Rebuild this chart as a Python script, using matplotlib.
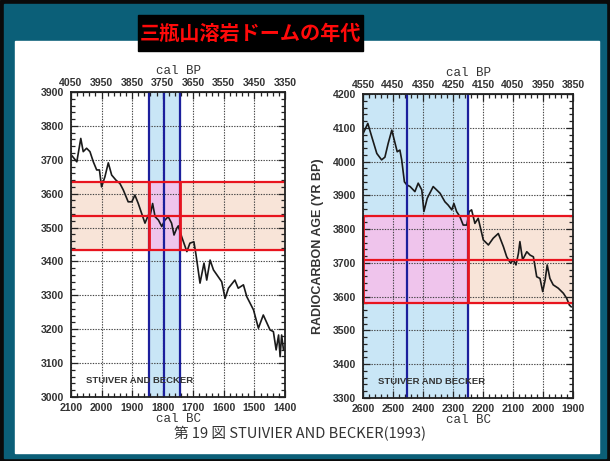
import matplotlib.pyplot as plt
from matplotlib.patches import Rectangle
from matplotlib.ticker import MultipleLocator

# 左図: 1800 BC 付近の較正曲線 (cal BC, 14C 年代)
left_bc = [2096, 2081, 2068, 2060, 2049, 2038, 2027, 2016, 2007, 2000, 1989, 1978,
           1967, 1953, 1940, 1929, 1913, 1901, 1891, 1880, 1869, 1858, 1847, 1842,
           1833, 1825, 1814, 1803, 1793, 1782, 1771, 1763, 1754, 1749, 1738, 1721,
           1711, 1698, 1691, 1678, 1665, 1656, 1645, 1634, 1607, 1596, 1585, 1564,
           1553, 1536, 1525, 1503, 1487, 1471, 1449, 1438, 1429, 1421, 1416, 1411, 1405]
left_c14 = [3711, 3694, 3763, 3724, 3734, 3724, 3694, 3670, 3670, 3620, 3650, 3691,
            3655, 3640, 3630, 3611, 3576, 3576, 3596, 3571, 3542, 3513, 3537, 3532,
            3571, 3532, 3522, 3503, 3522, 3532, 3513, 3478, 3498, 3505, 3473, 3429,
            3454, 3458, 3419, 3336, 3395, 3345, 3404, 3375, 3340, 3291, 3321, 3345,
            3321, 3331, 3296, 3257, 3203, 3242, 3198, 3193, 3139, 3183, 3119, 3183, 3139]

# 右図: 2400 BC 付近の較正曲線
right_bc = [2599, 2584, 2571, 2554, 2538, 2527, 2516, 2504, 2493, 2486, 2477, 2471,
            2462, 2454, 2443, 2427, 2416, 2404, 2397, 2386, 2366, 2343, 2327, 2316,
            2304, 2297, 2288, 2277, 2266, 2254, 2246, 2238, 2227, 2216, 2199, 2182,
            2166, 2149, 2132, 2121, 2108, 2099, 2090, 2082, 2077, 2068, 2054, 2043,
            2032, 2021, 2010, 2001, 1993, 1986, 1977, 1966, 1949, 1932, 1921, 1912, 1906]
right_c14 = [4084, 4113, 4074, 4024, 4005, 4013, 4054, 4093, 4054, 4029, 4034, 4005,
             3940, 3931, 3926, 3911, 3936, 3916, 3852, 3891, 3926, 3906, 3881, 3871,
             3857, 3876, 3852, 3837, 3812, 3812, 3852, 3857, 3817, 3832, 3768, 3753,
             3773, 3787, 3748, 3718, 3699, 3709, 3694, 3728, 3763, 3709, 3733, 3723,
             3718, 3659, 3654, 3615, 3649, 3694, 3654, 3635, 3625, 3610, 3595, 3575, 3570]

# 測定値 (14C 年代 ±1σ) と較正範囲
left_c14_range = [3435, 3535, 3635]
left_cal_range = [1845, 1745]
left_cal_mid = 1797
right_c14_range = [3580, 3710, 3840]
right_cal_range = [2600, 2250]
right_cal_lines = [2455, 2250]

BLUE_FILL = '#c9e6f6'
PINK_FILL = '#efc4ec'
ORANGE_FILL = '#f8e4d8'
RED = '#e8141e'
NAVY = '#1c1f9c'
TICK_FONT = dict(family='Liberation Sans', fontweight='bold', fontsize=7.6, color='#333333')

plt.rcParams['font.family'] = ['Noto Sans CJK JP', 'DejaVu Sans']

fig = plt.figure(figsize=(6.1, 4.61), dpi=100)

# 枠: 黒の縁取り, 青緑の地, 白い台紙
fig.patches.append(Rectangle((0, 0), 1, 1, transform=fig.transFigure, color='#0a0a0a', zorder=-3))
fig.patches.append(Rectangle((4 / 610, 3 / 461), 602 / 610, 454 / 461, transform=fig.transFigure,
                             color='#0b5f78', zorder=-2))
fig.patches.append(Rectangle((15 / 610, 8 / 461), 584 / 610, 412 / 461, transform=fig.transFigure,
                             color='white', zorder=-1))
fig.patches.append(Rectangle((138 / 610, 410 / 461), 225 / 610, 36 / 461, transform=fig.transFigure,
                             color='black', zorder=0))
fig.text(250 / 610, 428 / 461, '三瓶山溶岩ドームの年代', color='#ff0a0a', fontsize=14.5,
         fontweight='bold', ha='center', va='center')


def setup_axes(ax, xlim, ylim):
    ax.set_xlim(*xlim)
    ax.set_ylim(*ylim)
    ax.xaxis.set_major_locator(MultipleLocator(100))
    ax.xaxis.set_minor_locator(MultipleLocator(20))
    ax.yaxis.set_major_locator(MultipleLocator(100))
    ax.yaxis.set_minor_locator(MultipleLocator(20))
    ax.tick_params(which='both', direction='in', top=True, right=True, color='#222222', width=0.9)
    ax.tick_params(which='major', length=5)
    ax.tick_params(which='minor', length=3)
    ax.tick_params(axis='x', pad=4)
    ax.tick_params(axis='y', pad=5)
    for lab in ax.get_xticklabels() + ax.get_yticklabels():
        lab.set(**TICK_FONT)
    ax.grid(which='major', linestyle=(0, (1.2, 1.2)), color='#444444', linewidth=0.8)
    ax.set_axisbelow(False)
    for sp in ax.spines.values():
        sp.set_linewidth(1.3)
        sp.set_color('#222222')
        sp.set_zorder(6)

    top = ax.secondary_xaxis('top', functions=(lambda bc: bc + 1950, lambda bp: bp - 1950))
    top.set_xticks(range(int(xlim[0]) + 1950, int(xlim[1]) + 1950 - 1, -100))
    top.tick_params(which='both', direction='in', length=0, pad=3)
    for lab in top.get_xticklabels():
        lab.set(**TICK_FONT)
    top.set_xlabel('cal BP', family='Liberation Mono', fontsize=9, color='#333333', labelpad=3)
    ax.set_xlabel('cal BC', family='Liberation Mono', fontsize=9, color='#333333', labelpad=0)
    ax.text(0.07, 0.045, 'STUIVER AND BECKER', transform=ax.transAxes, family='Liberation Sans',
            fontweight='bold', fontsize=6.8, color='#333333', zorder=7)


# 左図
ax1 = fig.add_axes([71 / 610, 64 / 461, 214 / 610, 305 / 461])
setup_axes(ax1, (2100, 1400), (3000, 3900))
ax1.axhspan(left_c14_range[0], left_c14_range[2], color=ORANGE_FILL, zorder=0)
ax1.axvspan(left_cal_range[0], left_cal_range[1], color=BLUE_FILL, zorder=0.5)
ax1.add_patch(Rectangle((left_cal_range[1], left_c14_range[0]),
                        left_cal_range[0] - left_cal_range[1],
                        left_c14_range[2] - left_c14_range[0],
                        facecolor=PINK_FILL, edgecolor='none', zorder=0.8))
ax1.plot(left_bc, left_c14, color='#1a1a1a', linewidth=1.2, zorder=3)
for x in left_cal_range + [left_cal_mid]:
    ax1.axvline(x, color=NAVY, linewidth=1.6, zorder=4)
for y in left_c14_range:
    ax1.axhline(y, color=RED, linewidth=1.6, zorder=5)
ax1.vlines(left_cal_range, left_c14_range[0], left_c14_range[2], color=RED, linewidth=2, zorder=5)

# 右図
ax2 = fig.add_axes([363 / 610, 63 / 461, 210 / 610, 304 / 461])
setup_axes(ax2, (2600, 1900), (3300, 4200))
ax2.axhspan(right_c14_range[0], right_c14_range[2], color=ORANGE_FILL, zorder=0)
ax2.axvspan(right_cal_range[0], right_cal_range[1], color=BLUE_FILL, zorder=0.5)
ax2.add_patch(Rectangle((right_cal_range[1], right_c14_range[0]),
                        right_cal_range[0] - right_cal_range[1],
                        right_c14_range[2] - right_c14_range[0],
                        facecolor=PINK_FILL, edgecolor='none', zorder=0.8))
ax2.plot(right_bc, right_c14, color='#1a1a1a', linewidth=1.2, zorder=3)
for x in right_cal_lines:
    ax2.axvline(x, color=NAVY, linewidth=1.6, zorder=4)
for y in right_c14_range:
    ax2.axhline(y, color=RED, linewidth=1.6, zorder=5)
ax2.vlines(right_cal_range, right_c14_range[0], right_c14_range[2], color=RED, linewidth=2,
           zorder=5, clip_on=False)
ax2.set_ylabel('RADIOCARBON AGE (YR BP)', family='Liberation Sans', fontweight='bold',
               fontsize=9, color='#333333', labelpad=6)

fig.text(300 / 610, 27 / 461, '第 19 図 STUIVIER AND BECKER(1993)', fontsize=10.5,
         color='#333333', ha='center', va='center')

fig.savefig('out.png', dpi=100)
